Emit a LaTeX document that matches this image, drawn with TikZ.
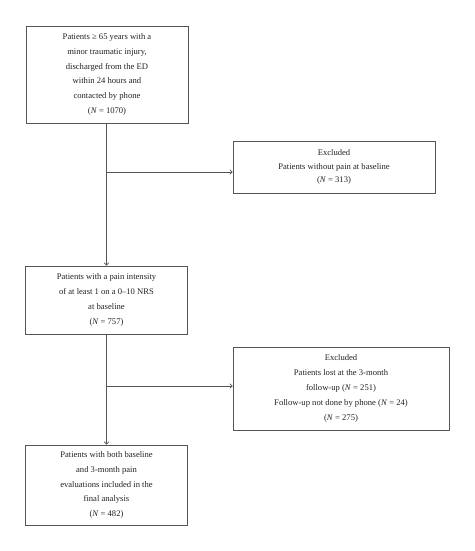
\documentclass[tikz,border=0pt]{standalone}
\usepackage{fontspec}
\setmainfont{Liberation Serif}
\usetikzlibrary{arrows.meta}
\definecolor{linec}{HTML}{555555}
\definecolor{textc}{HTML}{222222}
\begin{document}
\begin{tikzpicture}[x=1pt,y=-1pt,
  flowbox/.style={draw=linec,line width=0.8pt,align=center,text=textc,
    font=\fontsize{8.6}{14.8}\selectfont,inner sep=0pt},
  conn/.style={draw=linec,line width=0.8pt,-{To[length=3pt,width=5pt]}}]
\useasboundingbox (0,0) rectangle (474,551);
\node[flowbox,minimum width=162pt,minimum height=97pt] (b1) at (107,74.5)
 {Patients ≥ 65 years with a\\ minor traumatic injury,\\ discharged from the ED\\ within 24 hours and\\ contacted by phone\\ (\textit{N} = 1070)};
\node[flowbox,minimum width=202pt,minimum height=52pt,font=\fontsize{8.6}{13.8}\selectfont] (b2) at (334,167)
 {Excluded\\ Patients without pain at baseline\\ (\textit{N} = 313)};
\node[flowbox,minimum width=162pt,minimum height=68pt] (b3) at (106.5,300)
 {Patients with a pain intensity\\ of at least 1 on a 0–10 NRS\\ at baseline\\ (\textit{N} = 757)};
\node[flowbox,minimum width=216pt,minimum height=83pt] (b4) at (341,388.5)
 {Excluded\\ Patients lost at the 3-month\\ follow-up (\textit{N} = 251)\\ Follow-up not done by phone (\textit{N} = 24)\\ (\textit{N} = 275)};
\node[flowbox,minimum width=162pt,minimum height=80pt] (b5) at (106.5,485)
 {Patients with both baseline\\ and 3-month pain\\ evaluations included in the\\ final analysis\\ (\textit{N} = 482)};
\coordinate (j1) at (106.5,172);
\coordinate (j2) at (106.5,386);
\draw[conn] (b1.south -| b3.north) -- (b3.north);
\draw[conn] (j1) -- (j1 -| b2.west);
\draw[conn] (b3.south) -- (b5.north);
\draw[conn] (j2) -- (j2 -| b4.west);
\end{tikzpicture}
\end{document}
